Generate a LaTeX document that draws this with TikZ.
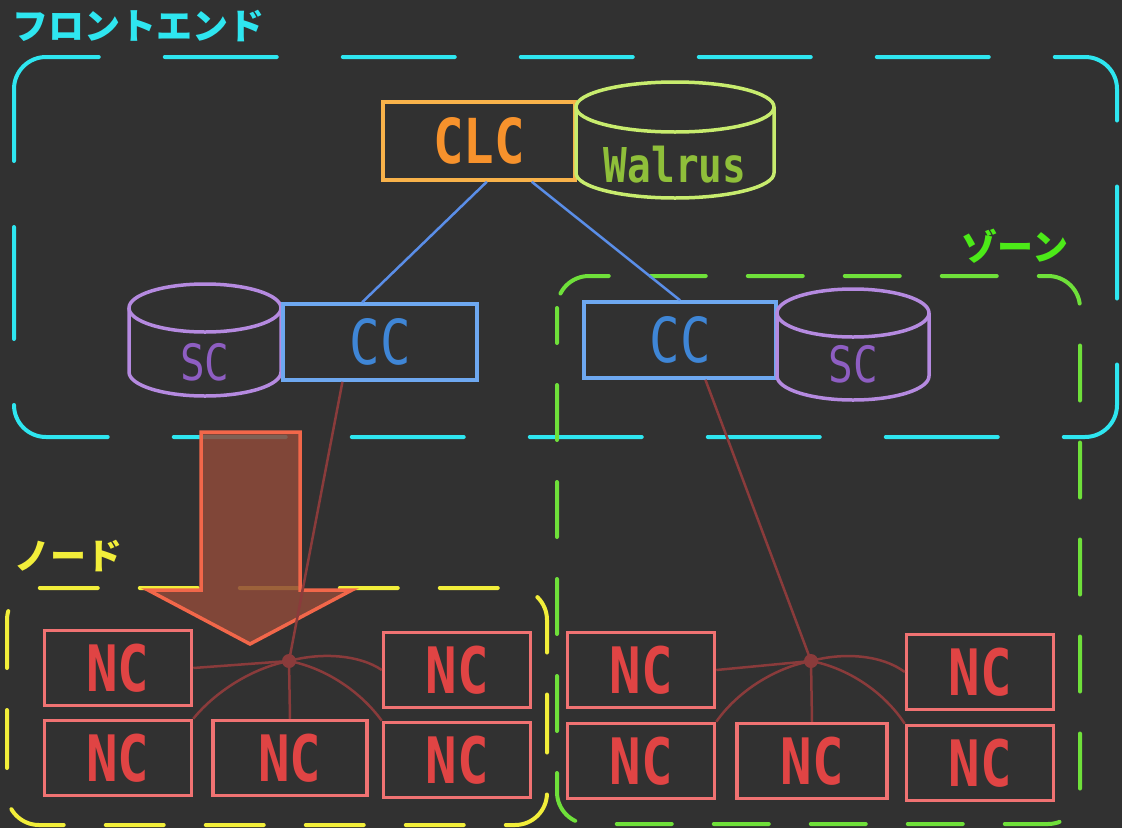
\documentclass[tikz,border=0pt]{standalone}
\usepackage{fontspec}
\newfontfamily\jpf{Noto Sans CJK JP}
\newfontfamily\mono{DejaVu Sans Mono}
\usetikzlibrary{calc}
\definecolor{bg}{HTML}{313131}
\definecolor{cyanc}{HTML}{2EE6F0}
\definecolor{zoneg}{HTML}{6FE03A}
\definecolor{zonel}{HTML}{4CEA18}
\definecolor{nodey}{HTML}{F2EE3A}
\definecolor{clcb}{HTML}{F8B24A}
\definecolor{clct}{HTML}{F7922C}
\definecolor{walb}{HTML}{C8EC6E}
\definecolor{walt}{HTML}{8FBF3A}
\definecolor{scb}{HTML}{B58AE0}
\definecolor{sct}{HTML}{8E5EC2}
\definecolor{ccb}{HTML}{6EA8F0}
\definecolor{cct}{HTML}{3F86D6}
\definecolor{bluel}{HTML}{5A8EE8}
\definecolor{ncb}{HTML}{F07272}
\definecolor{nct}{HTML}{E04444}
\definecolor{arrf}{HTML}{8E4A3A}
\definecolor{arrb}{HTML}{F2674A}
\definecolor{hubc}{HTML}{8A3B3B}
\newcommand\nar[1]{\scalebox{0.82}[1]{#1}}
\begin{document}
\begin{tikzpicture}[x=1pt,y=-1pt,
  region/.style={line width=4pt, rounded corners=32pt, line cap=round},
  boxn/.style={draw, rectangle, line width=3.5pt, inner sep=0pt},
  ncbox/.style={boxn, draw=ncb, text=nct, minimum width=147pt, minimum height=75pt,
     font=\mono\bfseries\fontsize{64}{64}\selectfont},
  ccbox/.style={boxn, draw=ccb, text=cct, minimum width=194pt, minimum height=76pt,
     font=\mono\fontsize{62}{62}\selectfont},
  cylline/.style={line width=3.5pt},
  link/.style={draw=hubc, line width=2.5pt},
  blink/.style={draw=bluel, line width=2.5pt},
  lab/.style={font=\jpf\bfseries\fontsize{36}{36}\selectfont, inner sep=0pt}
]
\fill[bg] (0,0) rectangle (1122,828);
\useasboundingbox (0,0) rectangle (1122,828);

% region labels
\node[lab, text=cyanc, anchor=west] (lfront) at (12,26) {フロントエンド};
\node[lab, text=zonel] (lzone) at (1015,246) {ゾーン};
\node[lab, text=nodey] (lnode) at (68,556) {ノード};

% regions
\draw[region, draw=cyanc, dash pattern=on 112pt off 66pt, dash phase=40pt] (14,57) rectangle (1117,437);
\draw[region, draw=zoneg, dash pattern=on 55pt off 42pt, dash phase=20pt] (557,276) rectangle (1080,824);
\draw[region, draw=nodey, dash pattern=on 58pt off 42pt, dash phase=10pt] (7,588) rectangle (547,825);

% big arrow
\draw[draw=arrb, fill=arrf, fill opacity=0.85, line width=3.5pt, line join=miter]
  (201,432) -- (300,432) -- (300,590) -- (352,590) -- (250,644) -- (148,590) -- (201,590) -- cycle;

% CLC and Walrus
\node[boxn, draw=clcb, text=clct, minimum width=192pt, minimum height=78pt,
  font=\mono\bfseries\fontsize{62}{62}\selectfont] (CLC) at (479,141) {\nar{CLC}};
\draw[cylline, draw=walb] (675,107) ellipse[x radius=99, y radius=25];
\draw[cylline, draw=walb] (576,107) -- (576,173) arc[start angle=180, end angle=0, x radius=99, y radius=25] -- (774,107);
\node[text=walt, font=\mono\bfseries\fontsize{48}{48}\selectfont] (walrus) at (675,165) {\nar{Walrus}};

% left SC + CC
\draw[cylline, draw=scb] (205,308) ellipse[x radius=76, y radius=24];
\draw[cylline, draw=scb] (129,308) -- (129,372) arc[start angle=180, end angle=0, x radius=76, y radius=24] -- (281,308);
\node[text=sct, font=\mono\fontsize{50}{50}\selectfont] (SCL) at (205,362) {\nar{SC}};
\node[ccbox] (CCL) at (380,342) {\nar{CC}};

% right CC + SC
\node[ccbox, minimum width=192pt] (CCR) at (680,340) {\nar{CC}};
\draw[cylline, draw=scb] (853,313) ellipse[x radius=76, y radius=24];
\draw[cylline, draw=scb] (777,313) -- (777,376) arc[start angle=180, end angle=0, x radius=76, y radius=24] -- (929,313);
\node[text=sct, font=\mono\fontsize{50}{50}\selectfont] (SCR) at (853,364) {\nar{SC}};

% blue links
\draw[blink] ($(CLC.south west)!0.54!(CLC.south east)$) -- ($(CCL.north west)!0.41!(CCL.north east)$);
\draw[blink] ($(CLC.south west)!0.77!(CLC.south east)$) -- ($(CCR.north west)!0.5!(CCR.north east)$);

% NC nodes left
\node[ncbox] (L1) at (118,668) {\nar{NC}};
\node[ncbox] (L2) at (457,670) {\nar{NC}};
\node[ncbox] (L3) at (118,758) {\nar{NC}};
\node[ncbox, minimum width=154pt] (L4) at (290,758) {\nar{NC}};
\node[ncbox] (L5) at (457,760) {\nar{NC}};
% NC nodes right
\node[ncbox] (R1) at (641,670) {\nar{NC}};
\node[ncbox] (R2) at (980,672) {\nar{NC}};
\node[ncbox] (R3) at (641,761) {\nar{NC}};
\node[ncbox, minimum width=150pt] (R4) at (812,761) {\nar{NC}};
\node[ncbox] (R5) at (980,763) {\nar{NC}};

% hubs
\node[circle, fill=hubc, inner sep=0pt, minimum size=14pt] (hubL) at (289,661) {};
\node[circle, fill=hubc, inner sep=0pt, minimum size=14pt] (hubR) at (811,661) {};

\draw[link] ($(CCL.south west)!0.31!(CCL.south east)$) -- (hubL.center);
\draw[link] ($(CCR.south west)!0.63!(CCR.south east)$) -- (hubR.center);

\draw[link] (hubL.center) -- (L1.east);
\draw[link] (hubL.center) .. controls (322,652) and (360,655) .. (L2.west);
\draw[link] (hubL.center) .. controls (252,668) and (215,692) .. (L3.north east);
\draw[link] (hubL.center) -- (L4.north);
\draw[link] (hubL.center) .. controls (326,668) and (361,692) .. (L5.north west);

\draw[link] (hubR.center) -- (R1.east);
\draw[link] (hubR.center) .. controls (844,652) and (882,655) .. (R2.west);
\draw[link] (hubR.center) .. controls (774,668) and (737,692) .. (R3.north east);
\draw[link] (hubR.center) -- (R4.north);
\draw[link] (hubR.center) .. controls (848,668) and (884,692) .. (R5.north west);
\end{tikzpicture}
\end{document}
